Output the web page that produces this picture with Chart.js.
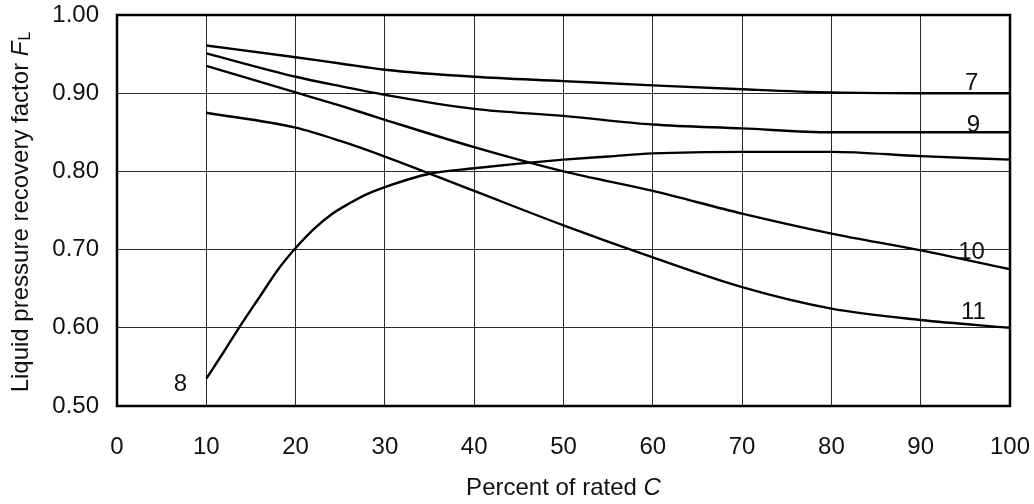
<!DOCTYPE html>
<html>
<head>
<meta charset="utf-8">
<script src="https://cdn.jsdelivr.net/npm/chart.js@4/dist/chart.umd.min.js"></script>
<style>
  html, body { margin: 0; padding: 0; background: #fff; }
  #wrap { width: 1034px; height: 504px; }
</style>
</head>
<body>
<div id="wrap"><canvas id="c" width="1034" height="504"></canvas></div>
<script>
// Percent of rated C (x positions of the sampled points)
const xMain = [10, 20, 25, 30, 40, 50, 60, 70, 80, 90, 100];
const curve7  = [0.961, 0.946, 0.938, 0.930, 0.921, 0.9155, 0.910, 0.905, 0.901, 0.900, 0.900];
const curve9  = [0.951, 0.921, 0.909, 0.898, 0.880, 0.871, 0.860, 0.855, 0.850, 0.850, 0.850];
const curve10 = [0.935, 0.901, 0.884, 0.866, 0.831, 0.800, 0.775, 0.746, 0.7205, 0.699, 0.675];
const curve11 = [0.875, 0.856, 0.839, 0.819, 0.775, 0.731, 0.690, 0.652, 0.6245, 0.610, 0.600];

// Curve 8 rises steeply at low flow, so it is sampled more densely there
const x8     = [10, 12, 14, 16, 18, 20, 22, 24, 26, 28, 30, 35, 40, 45, 50, 55, 60, 70, 80, 90, 100];
const curve8 = [0.535, 0.570, 0.606, 0.640, 0.674, 0.702, 0.726, 0.745, 0.759, 0.771, 0.780, 0.797, 0.804, 0.810, 0.815, 0.819, 0.823, 0.825, 0.825, 0.8195, 0.815];

// Curve numbers and where they are written (data coordinates)
const curveNames = ['7', '9', '10', '11', '8'];
const labelX     = [95.7, 95.9, 95.7, 95.9, 7.1];
const labelY     = [0.913, 0.859, 0.697, 0.620, 0.528];

// Axis ranges and titles
const xTicks = [0, 10, 20, 30, 40, 50, 60, 70, 80, 90, 100];
const yMin = 0.5, yMax = 1.0, yStep = 0.1;
const xTitleParts = [['Percent of rated ', false], ['C', true]];
const yTitleMain = 'Liquid pressure recovery factor ';
const yTitleSym = 'F';
const yTitleSub = 'L';

const FONT = '"Liberation Sans", Arial, Helvetica, sans-serif';
const FS = 24;
const INK = '#111';

function pts(xs, ys) { return xs.map((x, i) => ({ x: x, y: ys[i] })); }

function lineSet(data) {
  return {
    data: data,
    borderColor: '#000',
    borderWidth: 2.4,
    pointRadius: 0,
    fill: false,
    cubicInterpolationMode: 'monotone'
  };
}

// Frame, axis titles and curve numbers
const decorations = {
  id: 'decorations',
  afterDatasetsDraw(chart) {
    const { ctx, chartArea: a, scales } = chart;
    const xs = scales.x, ys = scales.y;
    ctx.save();

    // plot frame
    ctx.strokeStyle = '#000';
    ctx.lineWidth = 2.5;
    ctx.strokeRect(a.left, a.top, a.right - a.left, a.bottom - a.top);

    ctx.fillStyle = INK;
    ctx.textBaseline = 'middle';

    // curve numbers
    ctx.font = FS + 'px ' + FONT;
    ctx.textAlign = 'center';
    curveNames.forEach((n, i) => {
      ctx.fillText(n, xs.getPixelForValue(labelX[i]), ys.getPixelForValue(labelY[i]));
    });

    // x title with italic C
    ctx.textAlign = 'left';
    const fonts = xTitleParts.map(p => (p[1] ? 'italic ' : '') + FS + 'px ' + FONT);
    let total = 0;
    const widths = xTitleParts.map((p, i) => { ctx.font = fonts[i]; const w = ctx.measureText(p[0]).width; total += w; return w; });
    let cx = (a.left + a.right) / 2 - total / 2;
    xTitleParts.forEach((p, i) => { ctx.font = fonts[i]; ctx.fillText(p[0], cx, 488); cx += widths[i]; });

    // y title, rotated, with italic F and subscript L
    ctx.translate(21, (a.top + a.bottom) / 2 + 2);
    ctx.rotate(-Math.PI / 2);
    const fMain = FS + 'px ' + FONT, fSym = 'italic ' + FS + 'px ' + FONT, fSub = '16px ' + FONT;
    ctx.font = fMain; const w1 = ctx.measureText(yTitleMain).width;
    ctx.font = fSym; const w2 = ctx.measureText(yTitleSym).width;
    ctx.font = fSub; const w3 = ctx.measureText(yTitleSub).width;
    let tx = -(w1 + w2 + w3) / 2;
    ctx.font = fMain; ctx.fillText(yTitleMain, tx, 0); tx += w1;
    ctx.font = fSym; ctx.fillText(yTitleSym, tx, 0); tx += w2 + 1;
    ctx.font = fSub; ctx.fillText(yTitleSub, tx, 5);

    ctx.restore();
  }
};

function noEdgePadding(s) {
  s.paddingTop = 0; s.paddingBottom = 0; s.paddingLeft = 0; s.paddingRight = 0;
}

new Chart(document.getElementById('c'), {
  type: 'line',
  data: {
    datasets: [
      lineSet(pts(xMain, curve7)),
      lineSet(pts(xMain, curve9)),
      lineSet(pts(xMain, curve10)),
      lineSet(pts(xMain, curve11)),
      lineSet(pts(x8, curve8))
    ]
  },
  options: {
    responsive: false,
    animation: false,
    devicePixelRatio: 1,
    layout: { padding: { top: 15, right: 24, left: 0, bottom: 0 } },
    plugins: { legend: { display: false }, tooltip: { enabled: false } },
    scales: {
      x: {
        type: 'linear',
        min: xTicks[0],
        max: xTicks[xTicks.length - 1],
        afterBuildTicks(s) { s.ticks = xTicks.map(v => ({ value: v })); },
        afterFit(s) { s.height = 98; noEdgePadding(s); },
        grid: { color: '#2a2a2a', lineWidth: 1, drawTicks: false },
        border: { display: false },
        ticks: { color: INK, font: { family: FONT, size: FS }, padding: 27, maxRotation: 0 }
      },
      y: {
        type: 'linear',
        min: yMin,
        max: yMax,
        ticks: {
          stepSize: yStep,
          color: INK,
          font: { family: FONT, size: FS },
          padding: 18,
          callback: v => v.toFixed(2)
        },
        afterFit(s) { s.width = 117; noEdgePadding(s); },
        grid: { color: '#2a2a2a', lineWidth: 1, drawTicks: false },
        border: { display: false }
      }
    }
  },
  plugins: [decorations]
});
</script>
</body>
</html>
